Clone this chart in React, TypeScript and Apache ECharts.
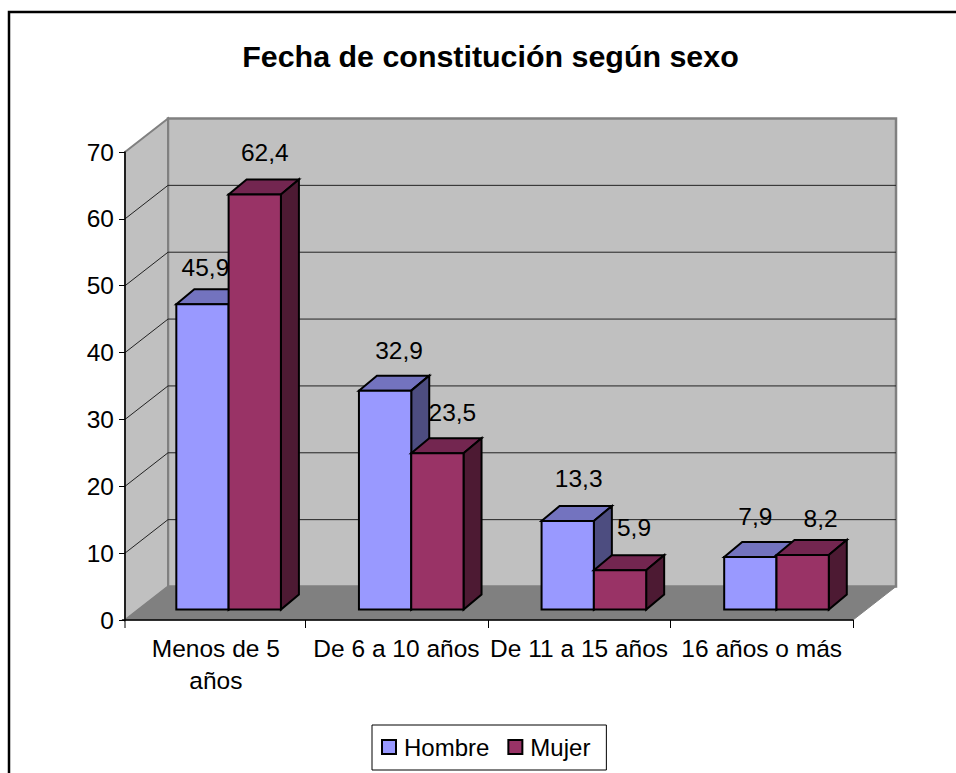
import React, { useEffect, useRef } from "react";
import * as echarts from "echarts";

const categories = ["Menos de 5\naños", "De 6 a 10 años", "De 11 a 15 años", "16 años o más"];
const hombre = [45.9, 32.9, 13.3, 7.9];
const mujer = [62.4, 23.5, 5.9, 8.2];
const yTicks = [0, 10, 20, 30, 40, 50, 60, 70];

// hand-placed label nudges seen in the reference (pixels, relative to the bar's centre / top)
const hombreLabelNudge = [[3, -37], [14, -40], [11, -43], [5, -40]];
const mujerLabelNudge = [[10, -42], [15, -41], [14, -43], [18, -36]];

const FONT = '"Liberation Sans", Arial, sans-serif';
const DEPTH_X = 43;
const DEPTH_Y = -33.5;
const AXIS_X = 125;
const BAR_W = 52.3;
const BAR_SHIFT_Y = -10.5;
const BAR_SCALE = 0.995;
const BAR_OFFSET_X = 14.8;
const BAR_DX = 18;
const BAR_DY = -15;

const poly = (points: number[][], fill: string, stroke: string, lineWidth = 2) => ({
  type: "polygon",
  shape: { points },
  style: { fill, stroke, lineWidth, lineJoin: "miter" },
});
const line = (a: number[], b: number[], stroke: string, lineWidth = 1) => ({
  type: "line",
  shape: { x1: a[0], y1: a[1], x2: b[0], y2: b[1] },
  style: { stroke, lineWidth },
});

const wallRender = (params: any, api: any) => {
  const cs = params.coordSys;
  const right = cs.x + cs.width;
  const y = api.coord([0, api.value(1)])[1];
  const y0 = cs.y + cs.height;
  const top = cs.y;
  const children: any[] = [];
  if (params.dataIndex === 0) {
    children.push(
      poly([[AXIS_X + DEPTH_X, top + DEPTH_Y], [right + DEPTH_X, top + DEPTH_Y], [right + DEPTH_X, y0 + DEPTH_Y], [AXIS_X + DEPTH_X, y0 + DEPTH_Y]], "#C0C0C0", "#808080", 2.5),
      poly([[AXIS_X, top], [AXIS_X + DEPTH_X, top + DEPTH_Y], [AXIS_X + DEPTH_X, y0 + DEPTH_Y], [AXIS_X, y0]], "#C0C0C0", "#808080", 2),
      poly([[AXIS_X, y0], [AXIS_X + DEPTH_X, y0 + DEPTH_Y], [right + DEPTH_X, y0 + DEPTH_Y], [right, y0]], "#808080", "#808080", 1),
      line([AXIS_X, y0], [AXIS_X, y0 + 8], "#000"),
    );
  } else if (api.value(1) < 70) {
    children.push(
      line([AXIS_X, y], [AXIS_X + DEPTH_X, y + DEPTH_Y], "#222"),
      line([AXIS_X + DEPTH_X, y + DEPTH_Y], [right + DEPTH_X, y + DEPTH_Y], "#222"),
    );
  }
  return { type: "group", children };
};

const barRender = (side: number, front: string, topC: string, sideC: string, nudges: number[][]) => (params: any, api: any) => {
  const i = api.value(0);
  const v = api.value(1);
  const c = api.coord([i, v]);
  const c0 = api.coord([i, 0]);
  const x0 = c[0] + (side < 0 ? -BAR_W + BAR_OFFSET_X : BAR_OFFSET_X);
  const x1 = x0 + BAR_W;
  const yb = c0[1] + BAR_SHIFT_Y;
  const yt = yb - (c0[1] - c[1]) * BAR_SCALE;
  const n = nudges[params.dataIndex];
  return {
    type: "group",
    children: [
      poly([[x0, yt], [x1, yt], [x1 + BAR_DX, yt + BAR_DY], [x0 + BAR_DX, yt + BAR_DY]], topC, "#000"),
      poly([[x1, yt], [x1 + BAR_DX, yt + BAR_DY], [x1 + BAR_DX, yb + BAR_DY], [x1, yb]], sideC, "#000"),
      poly([[x0, yt], [x1, yt], [x1, yb], [x0, yb]], front, "#000"),
      {
        type: "text",
        style: {
          text: String(v).replace(".", ","),
          x: (x0 + x1) / 2 + n[0],
          y: yt + n[1],
          textAlign: "center",
          textVerticalAlign: "middle",
          font: `24.5px ${FONT}`,
          fill: "#000",
        },
      },
    ],
  };
};

export default function App() {
  const ref = useRef<HTMLDivElement>(null);
  useEffect(() => {
    const chart = echarts.init(ref.current!, undefined, { renderer: "svg" });
    chart.setOption({
      animation: false,
      backgroundColor: "#fff",
      title: {
        text: "Fecha de constitución según sexo",
        left: 485.5,
        top: 36,
        textAlign: "center",
        textStyle: { fontFamily: FONT, fontSize: 30.4, fontWeight: "bold", color: "#000" },
      },
      grid: { left: 122.5, right: 103, top: 152, bottom: 153, containLabel: false },
      legend: {
        data: [
          { name: "Hombre", icon: "rect" },
          { name: "Mujer", icon: "rect" },
        ],
        left: 372,
        top: 725,
        orient: "horizontal",
        backgroundColor: "#fff",
        borderColor: "#000",
        borderWidth: 1,
        padding: [10, 16, 11, 9],
        itemWidth: 14,
        itemHeight: 14,
        itemGap: 18,
        textStyle: { fontFamily: FONT, fontSize: 24, color: "#000", padding: [0, 0, 0, 3] },
        itemStyle: { borderColor: "#000", borderWidth: 2 },
      },
      xAxis: {
        type: "category",
        data: categories.map((c, i) => (i === 0 ? { value: c, textStyle: { padding: [0, 0, 0, 4] } } : c)),
        axisLine: { show: true, lineStyle: { color: "#000", width: 1.5 } },
        axisTick: { show: true, length: 8, interval: (i: number) => i > 0, lineStyle: { color: "#000" } },
        axisLabel: { interval: 0, color: "#000", fontFamily: FONT, fontSize: 24.5, lineHeight: 32, margin: 12 },
        splitLine: { show: false },
      },
      yAxis: {
        type: "value",
        min: 0,
        max: 70,
        interval: 10,
        offset: -2.5,
        axisLine: { show: true, lineStyle: { color: "#000", width: 1.5 } },
        axisTick: { show: true, length: 6, lineStyle: { color: "#000" } },
        axisLabel: { color: "#000", fontFamily: FONT, fontSize: 24.5, margin: 11 },
        splitLine: { show: false },
      },
      graphic: [
        {
          type: "rect",
          shape: { x: 9, y: 12, width: 1100, height: 1000 },
          style: { fill: "none", stroke: "#000", lineWidth: 2.5 },
          silent: true,
          z: 100,
        },
      ],
      series: [
        {
          name: "walls",
          type: "custom",
          z: -1,
          silent: true,
          data: yTicks.map((v) => [0, v]),
          encode: { x: 0, y: 1 },
          renderItem: wallRender,
        },
        {
          name: "Hombre",
          type: "custom",
          itemStyle: { color: "#9999FF" },
          data: hombre.map((v, i) => [i, v]),
          encode: { x: 0, y: 1 },
          renderItem: barRender(-1, "#9999FF", "#7373BF", "#4D4D80", hombreLabelNudge),
        },
        {
          name: "Mujer",
          type: "custom",
          itemStyle: { color: "#993366" },
          data: mujer.map((v, i) => [i, v]),
          encode: { x: 0, y: 1 },
          renderItem: barRender(1, "#993366", "#732650", "#4D1A33", mujerLabelNudge),
        },
      ],
    });
    return () => chart.dispose();
  }, []);
  return <div ref={ref} style={{ position: "absolute", left: 0, top: 0, width: 956, height: 773 }} />;
}
